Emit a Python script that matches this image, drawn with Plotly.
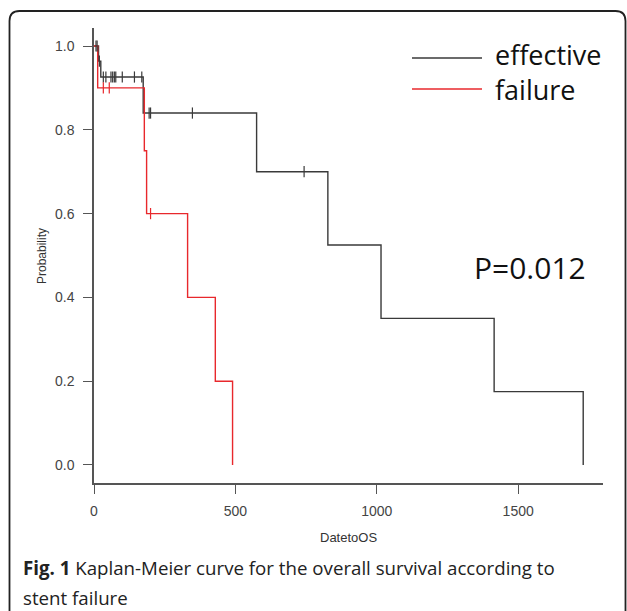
import numpy as np
import plotly.graph_objects as go

# ---- data ----
eff_time = [0, 16, 24, 174, 575, 827, 1015, 1415, 1730]
eff_surv = [1.0, 0.964, 0.926, 0.84, 0.70, 0.525, 0.35, 0.175, 0.0]
eff_cens_t = [7, 11, 19, 33, 42, 60, 66, 72, 77, 100, 143, 169, 195, 200, 348, 743]

fail_time = [0, 13, 178, 186, 331, 429, 490]
fail_surv = [1.0, 0.90, 0.75, 0.60, 0.40, 0.20, 0.0]
fail_cens_t = [33, 54, 200]

x_ticks = [0, 500, 1000, 1500]
y_ticks = [0.0, 0.2, 0.4, 0.6, 0.8, 1.0]

legend_labels = ["effective", "failure"]
p_text = "P=0.012"
caption_bold = "Fig. 1"
caption_1 = " Kaplan-Meier curve for the overall survival according to"
caption_2 = "stent failure"


def step_value(times, surv, t):
    idx = np.searchsorted(np.asarray(times), t, side="right") - 1
    return np.asarray(surv)[idx]


W, H = 627, 611
L, R, T, B = 94, 24, 28, 128
PW, PH = W - L - R, H - T - B


def px(x):
    return (x - L) / PW


def py(y):
    return 1 - (y - T) / PH


BLACK = "#3a3a3a"
RED = "#e8282c"

fig = go.Figure()
fig.add_trace(go.Scatter(x=eff_time, y=eff_surv, mode="lines", line_shape="hv",
                         line=dict(color=BLACK, width=1.4), showlegend=False))
fig.add_trace(go.Scatter(x=fail_time, y=fail_surv, mode="lines", line_shape="hv",
                         line=dict(color=RED, width=1.4), showlegend=False))
fig.add_trace(go.Scatter(x=eff_cens_t, y=step_value(eff_time, eff_surv, eff_cens_t),
                         mode="markers", showlegend=False,
                         marker=dict(symbol="line-ns", size=8, line=dict(color=BLACK, width=1.2))))
fig.add_trace(go.Scatter(x=fail_cens_t, y=step_value(fail_time, fail_surv, fail_cens_t),
                         mode="markers", showlegend=False,
                         marker=dict(symbol="line-ns", size=8, line=dict(color=RED, width=1.2))))

axis_common = dict(showline=True, linecolor="#555555", linewidth=1.5, ticks="outside",
                   ticklen=9, tickwidth=1.3, tickcolor="#555555", showgrid=False,
                   zeroline=False, tickfont=dict(family="Liberation Sans", size=14, color="#444444"))

fig.update_xaxes(range=[0, 1800], tickvals=x_ticks, ticklabelstandoff=5, **axis_common)
fig.update_yaxes(range=[-0.043, 1.043], tickvals=y_ticks, tickformat=".1f",
                 ticklabelstandoff=6, **axis_common)

# frame with rounded top corners
rx, ry = 10 / PW, 10 / PH
x0, x1 = px(9.5), px(625.5)
yt, yb = py(11), py(620)
path = (f"M {x0},{yb} L {x0},{yt - ry} Q {x0},{yt} {x0 + rx},{yt} "
        f"L {x1 - rx},{yt} Q {x1},{yt} {x1},{yt - ry} L {x1},{yb}")
shapes = [dict(type="path", xref="paper", yref="paper", path=path,
               line=dict(color="#222222", width=1.8))]
# legend lines
for yy, col in [(58, BLACK), (89, RED)]:
    shapes.append(dict(type="line", xref="paper", yref="paper", x0=px(412), x1=px(482),
                       y0=py(yy), y1=py(yy), line=dict(color=col, width=1.6)))

annotations = []
annotations.append(dict(x=px(493), y=py(72), xref="paper", yref="paper",
                        text="<br>".join(legend_labels),
                        showarrow=False, xanchor="left", yanchor="middle", align="left",
                        font=dict(family="Open Sans", size=27, color="#111111")))
annotations.append(dict(x=px(472), y=py(267), xref="paper", yref="paper", text=p_text,
                        showarrow=False, xanchor="left", yanchor="middle",
                        font=dict(family="Open Sans", size=30, color="#111111")))
annotations.append(dict(x=px(348), y=py(537), xref="paper", yref="paper", text="DatetoOS",
                        showarrow=False, xanchor="center", yanchor="middle",
                        font=dict(family="Liberation Sans", size=13, color="#333333")))
annotations.append(dict(x=px(42), y=py(256), xref="paper", yref="paper", text="Probability",
                        showarrow=False, xanchor="center", yanchor="middle", textangle=-90,
                        font=dict(family="Liberation Sans", size=12, color="#333333")))
annotations.append(dict(x=px(21), y=py(567), xref="paper", yref="paper",
                        text=f"<b>{caption_bold}</b>{caption_1}",
                        showarrow=False, xanchor="left", yanchor="middle",
                        font=dict(family="Open Sans", size=18.7, color="#222222")))
annotations.append(dict(x=px(21), y=py(597), xref="paper", yref="paper", text=caption_2,
                        showarrow=False, xanchor="left", yanchor="middle",
                        font=dict(family="Open Sans", size=18.7, color="#222222")))

fig.update_layout(width=W, height=H, margin=dict(l=L, r=R, t=T, b=B),
                  paper_bgcolor="white", plot_bgcolor="white",
                  shapes=shapes, annotations=annotations, showlegend=False)

fig.write_html("out.html")
